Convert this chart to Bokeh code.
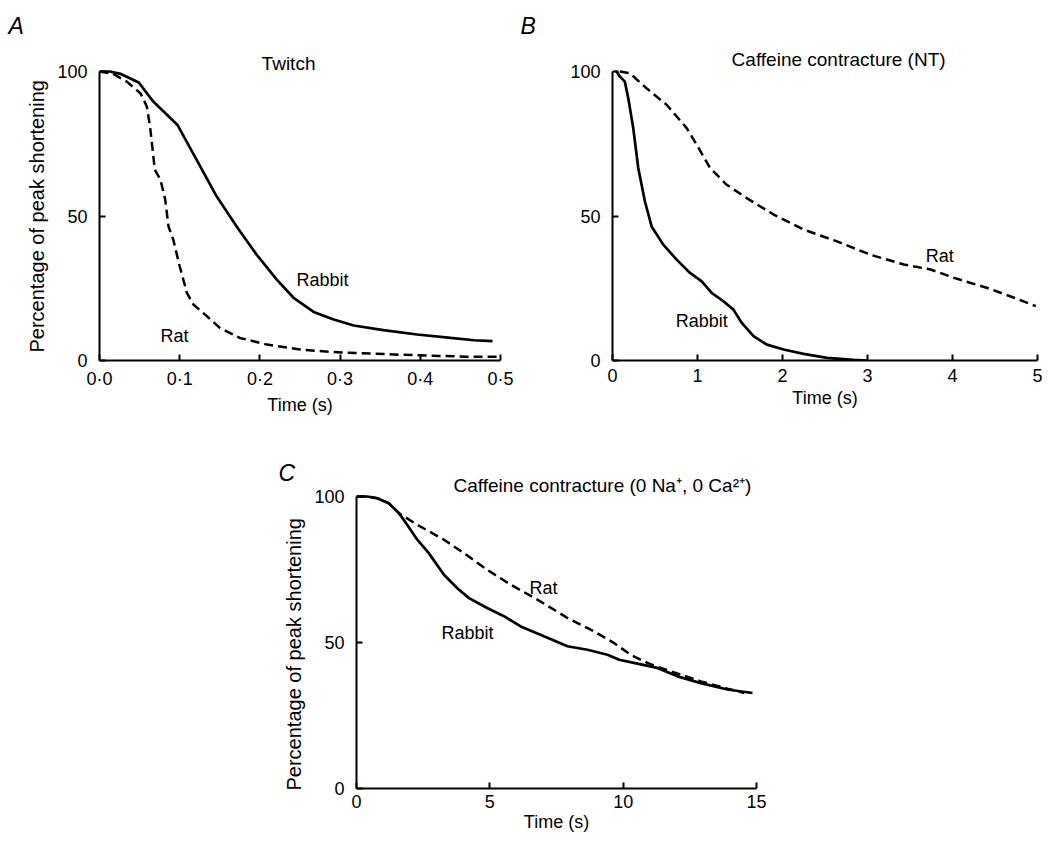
from bokeh.plotting import figure
from bokeh.models import Range1d, FixedTicker, Label, Spacer, Title
from bokeh.layouts import row, column
from bokeh.embed import file_html
from bokeh.resources import INLINE

FONT = "Liberation Sans"

# ---------------- data ----------------
# Panel A: Twitch
a_rabbit_t = [0, 0.013, 0.026, 0.049, 0.067, 0.097, 0.121, 0.146, 0.171, 0.196,
              0.221, 0.242, 0.267, 0.292, 0.317, 0.354, 0.396, 0.438, 0.467, 0.49]
a_rabbit_v = [100, 100, 99.2, 96.2, 89.6, 81.6, 69.5, 56.8, 46.4, 36.6,
              28.0, 21.7, 16.8, 14.2, 12.1, 10.5, 9.0, 7.8, 7.0, 6.7]
a_rat_t = [0, 0.017, 0.034, 0.051, 0.059, 0.063, 0.069, 0.076, 0.082, 0.086, 0.092,
           0.100, 0.109, 0.117, 0.134, 0.150, 0.175, 0.209, 0.250, 0.292, 0.375, 0.458, 0.5]
a_rat_v = [100, 99.2, 96.5, 92.5, 87.9, 81.0, 66.0, 62.6, 55.6, 46.4, 41.8,
           32.6, 23.4, 19.4, 15.3, 11.3, 7.8, 5.5, 3.8, 2.9, 2.0, 1.3, 1.3]
a_ticks = [0, 0.1, 0.2, 0.3, 0.4, 0.5]
a_tick_labels = ["0·0", "0·1", "0·2", "0·3", "0·4", "0·5"]

# Panel B: Caffeine contracture (NT)
b_rabbit_t = [0.03, 0.047, 0.086, 0.145, 0.185, 0.244, 0.303, 0.381, 0.46, 0.597, 0.755,
              0.912, 1.05, 1.167, 1.305, 1.423, 1.521, 1.659, 1.816, 2.013, 2.248, 2.524,
              2.838, 2.995]
b_rabbit_v = [100, 100, 98.3, 96.5, 90.8, 80.4, 66.6, 55.1, 46.4, 40.1, 34.9,
              30.3, 27.4, 23.4, 20.5, 17.6, 13.0, 8.4, 5.5, 3.8, 2.3, 0.9, 0.2, 0]
b_rat_t = [0.086, 0.204, 0.40, 0.637, 0.873, 0.99, 1.148, 1.344, 1.58, 1.895, 2.248,
           2.642, 3.035, 3.428, 3.742, 4.017, 4.41, 4.725, 4.98]
b_rat_v = [100, 99.4, 94.2, 88.5, 80.4, 74.7, 66.6, 60.8, 56.2, 50.5, 45.3,
           41.2, 36.6, 33.2, 31.5, 28.6, 25.1, 21.7, 18.8]
b_ticks = [0, 1, 2, 3, 4, 5]

# Panel C: Caffeine contracture (0 Na+, 0 Ca2+)
c_rabbit_t = [0, 0.4, 0.78, 1.21, 1.59, 1.9, 2.28, 2.71, 3.28, 3.78, 4.22, 4.9, 5.53,
              6.16, 7.03, 7.91, 8.66, 9.41, 9.85, 10.4, 11.28, 12.04, 12.91, 13.91, 14.85]
c_rabbit_v = [100, 100, 99.4, 97.7, 94.3, 90.3, 85.2, 80.6, 73.2, 68.6, 65.2, 61.8, 59.0,
              55.5, 52.1, 48.7, 47.5, 45.8, 44.1, 43.0, 41.3, 38.4, 36.1, 33.9, 32.7]
c_rat_t = [0, 0.4, 0.78, 1.21, 1.59, 2.28, 3.28, 4.03, 4.9, 5.78, 6.78, 7.91, 8.91,
           9.66, 10.28, 10.91, 11.41, 12.16, 12.91, 13.91, 14.54]
c_rat_v = [100, 100, 99.4, 97.7, 94.3, 90.3, 85.2, 80.6, 74.9, 69.8, 64.7, 58.4, 53.8,
           49.8, 45.8, 43.0, 41.3, 39.0, 36.7, 34.2, 32.7]
c_ticks = [0, 5, 10, 15]

y_ticks = [0, 50, 100]
YLAB = "Percentage of peak shortening"


def make_fig(width, height, xr, yr, left, right, top, bottom, xticks, xlabels=None,
             xstand=(8, 3)):
    p = figure(width=width, height=height, x_range=Range1d(*xr), y_range=Range1d(*yr),
               output_backend="svg", toolbar_location=None, title=None,
               min_border_left=left, min_border_right=right,
               min_border_top=top, min_border_bottom=bottom)
    p.grid.visible = False
    p.outline_line_color = None
    p.background_fill_color = "white"
    p.border_fill_color = "white"
    for ax in (p.xaxis[0], p.yaxis[0]):
        ax.axis_line_width = 2
        ax.axis_line_color = "black"
        ax.major_tick_line_width = 2
        ax.major_tick_line_color = "black"
        ax.major_tick_in = 6
        ax.major_tick_out = 0
        ax.minor_tick_line_color = None
        ax.major_label_text_font = FONT
        ax.major_label_text_font_size = "18px"
        ax.major_label_text_color = "black"
        ax.axis_label_text_font = FONT
        ax.axis_label_text_font_size = "18px"
        ax.axis_label_text_font_style = "normal"
        ax.axis_label_text_color = "black"
    xa = p.xaxis[0]
    xa.ticker = FixedTicker(ticks=xticks)
    if xlabels is not None:
        xa.major_label_overrides = dict(zip(xticks, xlabels))
    xa.axis_label = "Time (s)"
    xa.major_label_standoff = xstand[0]
    xa.axis_label_standoff = xstand[1]
    ya = p.yaxis[0]
    ya.ticker = FixedTicker(ticks=y_ticks)
    ya.bounds = (0, 100)
    ya.major_label_standoff = 12
    ya.major_label_orientation = "horizontal"
    return p


def add_ylabel(p, offset):
    p.add_layout(Title(text=YLAB, text_font=FONT, text_font_size="20px",
                       text_font_style="normal", text_color="black",
                       align="left", vertical_align="middle", offset=offset,
                       standoff=12), "left")


def add_text(p, x, y, text, size="18px"):
    p.add_layout(Label(x=x, y=y, text=text, text_font=FONT, text_font_size=size,
                       text_align="center", text_baseline="middle", text_color="black"))


def add_letter(p, letter, offset, standoff):
    kw = dict(text=letter, text_font=FONT, text_font_size="23px",
              text_font_style="italic", text_color="black", align="left",
              vertical_align="bottom", offset=offset)
    try:
        t = Title(standoff=standoff, **kw)
    except Exception:
        t = Title(standoff=0, **kw)
    p.add_layout(t, "above")


# Panel A
pA = make_fig(513, 420, (0, 0.5), (0, 110.73), 99, 13, 40, 60, a_ticks, a_tick_labels)
pA.line(a_rat_t, a_rat_v, line_color="black", line_width=2.5, line_dash="9 5")
pA.line(a_rabbit_t, a_rabbit_v, line_color="black", line_width=2.7)
add_text(pA, 0.2357, 102.8, "Twitch", size="19px")
add_text(pA, 0.278, 28.0, "Rabbit")
add_text(pA, 0.0935, 8.65, "Rat")
add_letter(pA, "A", -91, 4)
add_ylabel(pA, 8)

# Panel B
pB = make_fig(533, 420, (0, 5), (0, 110.73), 99, 9, 40, 60, b_ticks)
pB.line(b_rat_t, b_rat_v, line_color="black", line_width=2.5, line_dash="9 5")
pB.line(b_rabbit_t, b_rabbit_v, line_color="black", line_width=2.7)
add_text(pB, 2.66, 104.2, "Caffeine contracture (NT)", size="19px")
add_text(pB, 3.85, 36.3, "Rat")
add_text(pB, 1.05, 13.8, "Rabbit")
add_letter(pB, "B", -92, 4)

# Panel C
pC = make_fig(514, 422, (0, 15), (0, 108.9), 99, 15, 50, 54, c_ticks, None,
              xstand=(6, 1))
pC.line(c_rat_t, c_rat_v, line_color="black", line_width=2.5, line_dash="9 5")
pC.line(c_rabbit_t, c_rabbit_v, line_color="black", line_width=2.7)
add_text(pC, 9.22, 103.8, "Caffeine contracture (0 Na⁺, 0 Ca²⁺)", size="19px")
add_text(pC, 7.01, 68.8, "Rat")
add_text(pC, 4.16, 53.4, "Rabbit")
add_letter(pC, "C", -78, -30)
add_ylabel(pC, -2)

layout = column(row(pA, pB), row(Spacer(width=257, height=422), pC))

open("out.html", "w").write(file_html(layout, INLINE))
